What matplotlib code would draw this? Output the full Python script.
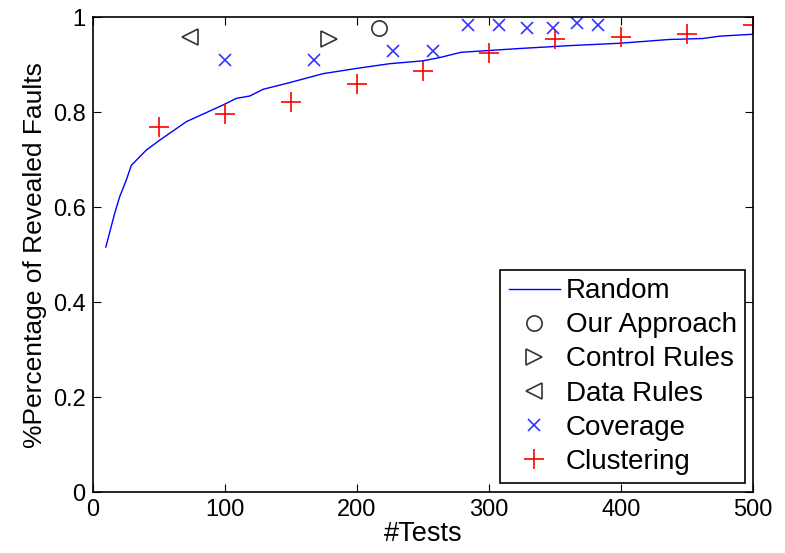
import matplotlib.pyplot as plt

plt.rcParams["font.family"] = ["Liberation Sans", "DejaVu Sans"]

# Random baseline curve
random_x = [10, 16.7, 20.5, 25.5, 29.3, 40.6, 50.8, 71, 98.7, 108.8, 119, 129, 149,
            174.5, 199.7, 225, 250, 263, 279, 323.5, 361, 399, 437, 462, 475, 500]
random_y = [0.516, 0.587, 0.622, 0.657, 0.688, 0.72, 0.741, 0.78, 0.815, 0.829, 0.834,
            0.848, 0.862, 0.881, 0.892, 0.902, 0.908, 0.915, 0.926, 0.934, 0.94, 0.945,
            0.953, 0.955, 0.96, 0.964]

our_x, our_y = [217], [0.978]
control_x, control_y = [179], [0.955]
data_x, data_y = [73.5], [0.958]

coverage_x = [100, 168, 227.5, 258, 284, 308, 329, 349, 367, 383]
coverage_y = [0.909, 0.909, 0.928, 0.928, 0.983, 0.983, 0.978, 0.978, 0.988, 0.983]

cluster_x = [50, 100, 150, 200, 250, 300, 350, 400, 450, 500]
cluster_y = [0.769, 0.796, 0.822, 0.859, 0.887, 0.925, 0.955, 0.959, 0.964, 0.983]

fig = plt.figure(figsize=(7.85, 5.53), dpi=100)
ax = fig.add_axes([0.118, 0.110, 0.841, 0.859])

ax.plot(random_x, random_y, color="blue", lw=1, label="Random")
ax.plot(our_x, our_y, ls="none", marker="o", ms=11, mfc="none", mec="#333333",
        mew=1.2, label="Our Approach")
ax.plot(control_x, control_y, ls="none", marker=">", ms=11, mfc="none", mec="#333333",
        mew=1.2, label="Control Rules")
ax.plot(data_x, data_y, ls="none", marker="<", ms=11, mfc="none", mec="#333333",
        mew=1.2, label="Data Rules")
ax.plot(coverage_x, coverage_y, ls="none", marker="x", ms=9, color="#3333ff",
        mew=1.2, label="Coverage")
ax.plot(cluster_x, cluster_y, ls="none", marker="+", ms=14, color="red",
        mew=1.2, label="Clustering")

ax.set_xlim(0, 500)
ax.set_ylim(0, 1)
ax.set_xticks([0, 100, 200, 300, 400, 500])
ax.set_yticks([0, 0.2, 0.4, 0.6, 0.8, 1])
ax.set_yticklabels(["0", "0.2", "0.4", "0.6", "0.8", "1"])
ax.tick_params(direction="in", top=True, right=True, labelsize=17, length=6, pad=5)
for s in ax.spines.values():
    s.set_linewidth(1.2)

ax.set_xlabel("#Tests", fontsize=19.5, labelpad=0)
ax.set_ylabel("%Percentage of Revealed Faults", fontsize=19, labelpad=4)

leg = ax.legend(loc="lower right", bbox_to_anchor=(745 / 785, 70 / 553),
                bbox_transform=fig.transFigure, fontsize=20, fancybox=False,
                framealpha=1, edgecolor="black", borderaxespad=0, handlelength=1.85,
                labelspacing=0.29, borderpad=0.3, handletextpad=0.2)
leg.get_frame().set_linewidth(1.2)

fig.savefig("out.png", dpi=100)
